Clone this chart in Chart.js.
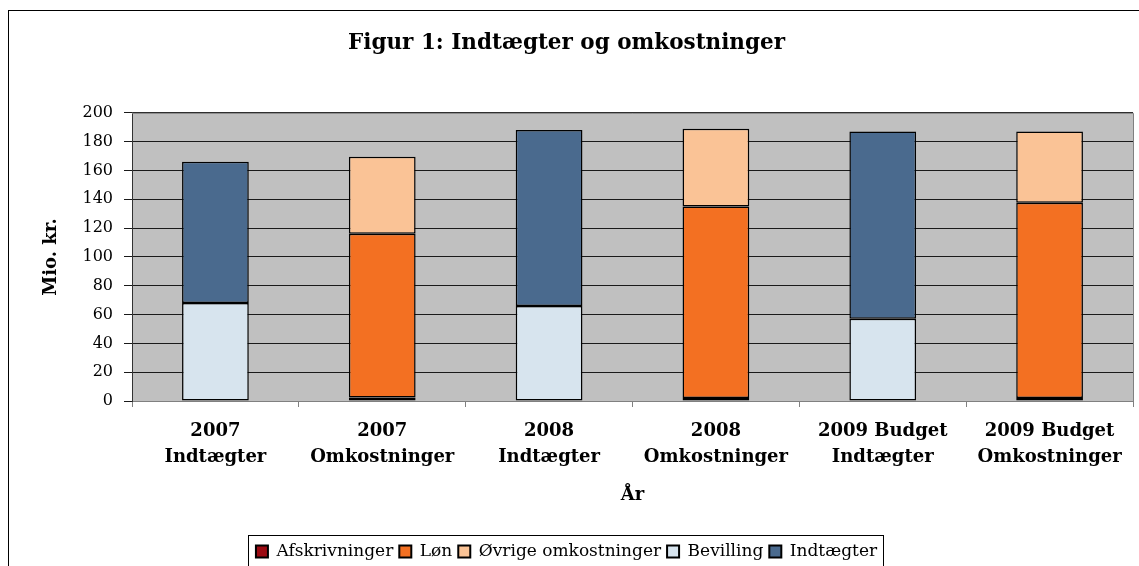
<!DOCTYPE html>
<html>
<head>
<meta charset="utf-8">
<script src="https://cdn.jsdelivr.net/npm/chart.js@4.4.0/dist/chart.umd.min.js"></script>
<style>
  html, body { margin: 0; padding: 0; background: #fff; }
  #wrap { width: 1139px; height: 566px; position: relative; }
</style>
</head>
<body>
<div id="wrap"><canvas id="costChart" width="1139" height="566"></canvas></div>
<script>
// --- Data ---
const categories = [
    ['2007', 'Indtægter'], ['2007', 'Omkostninger'],
    ['2008', 'Indtægter'], ['2008', 'Omkostninger'],
    ['2009 Budget', 'Indtægter'], ['2009 Budget', 'Omkostninger']
];
const afskrivninger = [null, 2.5, null, 2, null, 2];
const loen = [null, 113.5, null, 133, null, 135.5];
const oevrige = [null, 53.5, null, 54, null, 49.5];
const bevilling = [68, null, 66, null, 57, null];
const indtaegter = [98, null, 122, null, 130, null];
const yTicks = [0, 20, 40, 60, 80, 100, 120, 140, 160, 180, 200];

const serif = "'DejaVu Serif', serif";

// --- Frame, plot background and legend box ---
const framePlugin = {
    id: 'frame',
    beforeDraw(chart) {
        const ctx = chart.ctx;
        const a = chart.chartArea;
        ctx.save();
        ctx.fillStyle = '#fff';
        ctx.fillRect(0, 0, chart.width, chart.height);
        ctx.strokeStyle = '#000';
        ctx.lineWidth = 1;
        ctx.strokeRect(8.5, 10.5, chart.width + 10, chart.height + 10);
        ctx.fillStyle = '#c0c0c0';
        ctx.fillRect(a.left, a.top, a.right - a.left, a.bottom - a.top);
        ctx.restore();
    },
    afterDraw(chart) {
        const ctx = chart.ctx;
        const a = chart.chartArea;
        ctx.save();
        ctx.strokeStyle = '#808080';
        ctx.lineWidth = 1;
        ctx.beginPath();
        ctx.moveTo(a.left, a.top + 0.5);
        ctx.lineTo(a.right + 0.5, a.top + 0.5);
        ctx.lineTo(a.right + 0.5, a.bottom);
        ctx.stroke();
        // legend border
        const lg = chart.legend;
        if (lg && lg.legendHitBoxes && lg.legendHitBoxes.length) {
            const hb = lg.legendHitBoxes;
            const l = Math.round(hb[0].left) - 7.5;
            const r = Math.round(hb[hb.length - 1].left + hb[hb.length - 1].width) + 6.5;
            const t = Math.round(hb[0].top) - 7.5;
            ctx.strokeStyle = '#000';
            ctx.strokeRect(l, t, r - l, 60);
        }
        ctx.restore();
    }
};

function seg(label, data, color) {
    return {
        label: label,
        data: data,
        backgroundColor: color,
        borderColor: '#000',
        borderWidth: 1.5,
        borderSkipped: false,
        barPercentage: 0.4,
        categoryPercentage: 1.0
    };
}

const ctx = document.getElementById('costChart').getContext('2d');
const myChart = new Chart(ctx, {
    type: 'bar',
    data: {
        labels: categories,
        datasets: [
            seg('Afskrivninger', afskrivninger, '#9b0a12'),
            seg('Løn', loen, '#f37022'),
            seg('Øvrige omkostninger', oevrige, '#fac396'),
            seg('Bevilling', bevilling, '#d7e4ee'),
            seg('Indtægter', indtaegter, '#4a6a8e')
        ]
    },
    options: {
        responsive: false,
        animation: false,
        layout: { padding: { left: 0, right: 6, top: 0, bottom: -4 } },
        plugins: {
            title: {
                display: true,
                text: 'Figur 1: Indtægter og omkostninger',
                color: '#000',
                font: { family: serif, size: 21.5, weight: 'bold', lineHeight: 1.2 },
                padding: { top: 31, bottom: 56 }
            },
            legend: {
                position: 'bottom',
                labels: {
                    color: '#000',
                    font: { family: serif, size: 17 },
                    boxWidth: 12,
                    boxHeight: 12,
                    padding: 6,
                    generateLabels(chart) {
                        return chart.data.datasets.map((d, i) => ({
                            text: d.label,
                            fillStyle: d.backgroundColor,
                            strokeStyle: '#000',
                            lineWidth: 2,
                            datasetIndex: i,
                            hidden: false
                        }));
                    }
                }
            },
            tooltip: { enabled: false }
        },
        scales: {
            x: {
                stacked: true,
                afterFit(scale) { scale.height = 136; },
                grid: {
                    offset: true,
                    drawOnChartArea: false,
                    color: '#808080',
                    tickLength: 6
                },
                border: { color: '#808080' },
                ticks: {
                    color: '#000',
                    padding: 11,
                    maxRotation: 0,
                    autoSkip: false,
                    font: { family: serif, size: 18, weight: 'bold', lineHeight: 1.44 }
                },
                title: {
                    display: true,
                    text: 'År',
                    color: '#000',
                    font: { family: serif, size: 18, weight: 'bold', lineHeight: 1.2 },
                    padding: { top: 0, bottom: 31 }
                }
            },
            y: {
                stacked: true,
                min: 0,
                max: 200,
                afterFit(scale) { scale.width = 132; },
                afterBuildTicks(scale) { scale.ticks = yTicks.map(v => ({ value: v })); },
                grid: { color: '#1a1a1a', tickLength: 8 },
                border: { color: '#333' },
                ticks: {
                    color: '#000',
                    padding: 11,
                    font: { family: serif, size: 16 }
                },
                title: {
                    display: true,
                    text: 'Mio. kr.',
                    color: '#000',
                    font: { family: serif, size: 18, weight: 'bold', lineHeight: 1.2 },
                    padding: { top: 41, bottom: 0 }
                }
            }
        }
    },
    plugins: [framePlugin]
});
</script>
</body>
</html>
